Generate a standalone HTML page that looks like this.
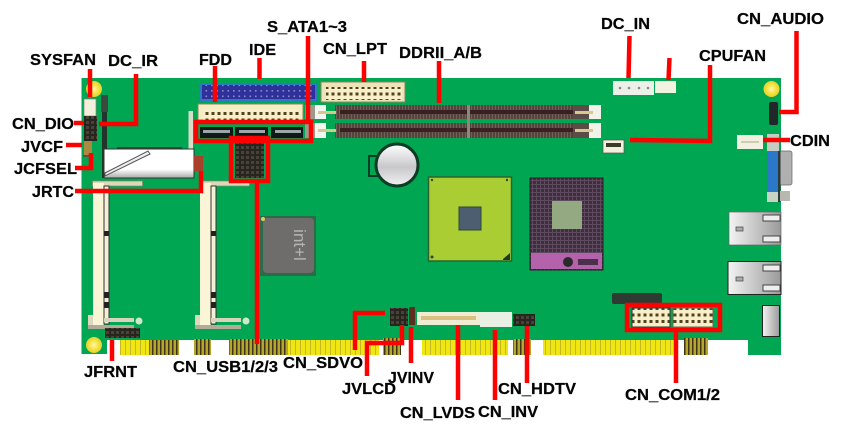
<!DOCTYPE html>
<html><head><meta charset="utf-8"><style>
html,body{margin:0;padding:0;background:#fff;width:851px;height:434px;overflow:hidden}
svg{display:block;filter:blur(.35px)}
text{font-family:"Liberation Sans",sans-serif;font-weight:bold;font-size:16px;fill:#050505;stroke:#050505;stroke-width:.25px}
</style></head><body>
<svg width="851" height="434" viewBox="0 0 851 434" xmlns="http://www.w3.org/2000/svg">
<defs>
<pattern id="gy" width="5" height="5" patternUnits="userSpaceOnUse"><rect width="5" height="5" fill="#f0e614"/><rect width="1" height="5" fill="#c4b820"/></pattern>
<pattern id="gd" width="4" height="5" patternUnits="userSpaceOnUse"><rect width="4" height="5" fill="#b5a52c"/><rect width="1.5" height="5" fill="#3e3418"/></pattern>
<pattern id="pinC" width="6" height="6.5" patternUnits="userSpaceOnUse"><rect width="6" height="6.5" fill="#f8efc8"/><rect x="1.5" y="1.5" width="3" height="3" fill="#4f4320"/></pattern>
<pattern id="pinB" width="5.5" height="5.5" patternUnits="userSpaceOnUse"><rect width="5.5" height="5.5" fill="#30309a"/><rect x="2" y="2" width="1.6" height="1.6" fill="#8a8ac8"/></pattern>
<pattern id="pinK" width="5" height="5" patternUnits="userSpaceOnUse"><rect width="5" height="5" fill="#26261f"/><rect x="1" y="1" width="3" height="3" fill="#4a4238"/></pattern>
<pattern id="dimm" width="3" height="4" patternUnits="userSpaceOnUse"><rect width="3" height="4" fill="#55443e"/><rect width="1" height="4" fill="#6f6156"/></pattern>
<pattern id="sock" width="4" height="4" patternUnits="userSpaceOnUse"><rect width="4" height="4" fill="#3e2e3e"/><rect width="1" height="4" fill="#5e4a5e"/><rect width="4" height="1" fill="#5e4a5e"/></pattern>
<linearGradient id="bat" x1="0" y1="0" x2="0" y2="1"><stop offset="0" stop-color="#fff"/><stop offset=".55" stop-color="#c8c8cc"/><stop offset="1" stop-color="#f2f2f2"/></linearGradient>
<linearGradient id="met" x1="0" y1="0" x2="1" y2="0"><stop offset="0" stop-color="#f4f4f4"/><stop offset="1" stop-color="#9a9a9a"/></linearGradient>
<linearGradient id="cf" x1="0" y1="0" x2="0" y2="1"><stop offset="0" stop-color="#fff"/><stop offset=".7" stop-color="#fff"/><stop offset="1" stop-color="#aaa"/></linearGradient>
<radialGradient id="hole"><stop offset="0" stop-color="#fff6b0"/><stop offset=".6" stop-color="#f4e23c"/><stop offset="1" stop-color="#e6d030"/></radialGradient>
</defs>

<!-- board -->
<path d="M81.5 78H781V355H748V340H107V354H81.5Z" fill="#00a651"/>
<!-- fingers -->
<rect x="120" y="340" width="30" height="15" fill="url(#gy)"/>
<rect x="149" y="340" width="30" height="15" fill="url(#gd)"/>
<rect x="194" y="339" width="17" height="16" fill="url(#gd)"/>
<rect x="229" y="339" width="59" height="16" fill="url(#gd)"/>
<rect x="288" y="340" width="91" height="15" fill="url(#gy)"/>
<rect x="383" y="338" width="18" height="17" fill="url(#gd)"/>
<rect x="422" y="340" width="86" height="15" fill="url(#gy)"/>
<rect x="513" y="339" width="18" height="16" fill="url(#gd)"/>
<rect x="543" y="340" width="131" height="15" fill="url(#gy)"/>
<rect x="684" y="338" width="24" height="17" fill="url(#gd)"/>
<!-- holes -->
<circle cx="94" cy="89" r="8" fill="url(#hole)"/>
<circle cx="94" cy="345" r="8" fill="url(#hole)"/>
<circle cx="771.5" cy="89" r="8" fill="url(#hole)"/>

<!-- IDE / FDD / LPT -->
<rect x="199.500" y="83" width="118" height="19" fill="#2e78c4"/>
<rect x="202" y="85" width="113" height="14" fill="url(#pinB)"/>
<rect x="198" y="104" width="105" height="16" fill="#f4edc4" stroke="#8b8660"/>
<rect x="203" y="109" width="96" height="11" fill="url(#pinC)"/>
<rect x="321" y="82" width="84" height="20" fill="#ece4b8" stroke="#8b8660"/>
<rect x="326" y="87" width="76" height="13" fill="url(#pinC)"/>

<!-- DIMM -->
<rect x="335" y="105" width="240" height="14" fill="url(#dimm)"/>
<rect x="335" y="123" width="240" height="15" fill="url(#dimm)"/>
<rect x="340" y="110" width="233" height="4" fill="#3a2022"/>
<rect x="340" y="128" width="233" height="4" fill="#3a2022"/>
<rect x="467" y="105" width="3" height="33" fill="#8a8a78"/>
<rect x="315" y="105" width="11" height="14" fill="#f4f4f0"/><rect x="315" y="123" width="11" height="15" fill="#f4f4f0"/>
<rect x="305" y="105" width="10" height="14" fill="#9c9a8a"/><rect x="305" y="123" width="10" height="15" fill="#9c9a8a"/>
<rect x="318" y="111" width="18" height="3" fill="#d8c890"/><rect x="318" y="129" width="18" height="3" fill="#d8c890"/>
<rect x="573" y="105" width="28" height="14" fill="#5c4c46"/><rect x="573" y="123" width="28" height="15" fill="#5c4c46"/>
<rect x="589" y="105" width="12" height="14" fill="#f2f2ea"/><rect x="589" y="123" width="12" height="15" fill="#f2f2ea"/>
<rect x="575" y="111" width="18" height="3" fill="#d8c890"/><rect x="575" y="129" width="18" height="3" fill="#d8c890"/>

<!-- battery -->
<rect x="369" y="156" width="9" height="20" fill="#00a651" stroke="#0c3c24" stroke-width="2"/>
<circle cx="397" cy="165" r="21" fill="url(#bat)" stroke="#0c3c24" stroke-width="3"/>

<!-- north bridge -->
<rect x="428.500" y="177" width="83" height="84" fill="#a9cd32" stroke="#2a6430" stroke-width="1.500"/>
<rect x="459" y="207" width="22" height="23" fill="#4d5e70" stroke="#2a4a34" stroke-width="1"/>
<circle cx="432" cy="180" r="1.200" fill="#2a4a20"/><circle cx="507" cy="180" r="1.200" fill="#2a4a20"/>
<circle cx="432" cy="257" r="1.500" fill="#2a4a20"/><path d="M503 259L510 253V260H503Z" fill="#1e3a1c"/>
<!-- socket -->
<rect x="530" y="178" width="73" height="92" fill="url(#sock)" stroke="#2a2028"/>
<rect x="552" y="201" width="30" height="28" fill="#93a982"/>
<rect x="531" y="253" width="71" height="16" fill="#b462ac"/>
<circle cx="568" cy="262" r="5" fill="#2a2a2a"/>
<rect x="578" y="259" width="20" height="6" fill="#4a304a"/>

<!-- intel chip -->
<rect x="260" y="216" width="56" height="60" fill="#2f6a48"/>
<rect x="263" y="218" width="51" height="55" rx="4" fill="#6f6c6c"/>
<text transform="translate(294,245) rotate(90)" style="font-size:17px;font-weight:normal;fill:#b4b4b4;stroke:none" text-anchor="middle">int+l</text>
<circle cx="263" cy="219" r="2" fill="#d8d060"/>

<!-- CF slot -->
<rect x="102" y="95" width="5" height="83" fill="#23352a"/>
<rect x="101" y="95" width="7" height="17" fill="#3a4a40"/>
<rect x="188.500" y="111" width="4.500" height="39" fill="#d8dcc8"/>
<rect x="104" y="149" width="90" height="29" fill="url(#cf)" stroke="#333" stroke-width="1"/>
<path d="M105 173 L148 151 L150 154 L105 176Z" fill="#eee" stroke="#555"/>
<rect x="117" y="147" width="65" height="1.500" fill="#2a4a34"/>

<!-- SODIMM slots -->
<g>
<rect x="92.500" y="181" width="50" height="5" fill="#ded8b8" stroke="#8a8670" stroke-width=".7"/>
<rect x="93" y="183" width="11" height="143" fill="#fbf5d8"/>
<rect x="104" y="186" width="5" height="138" fill="#f4f0d8" stroke="#333" stroke-width="1"/>
<rect x="104" y="231" width="5" height="5" fill="#222"/><rect x="104" y="292" width="5" height="6" fill="#222"/><rect x="104" y="302" width="5" height="6" fill="#222"/>
<rect x="88" y="315" width="5" height="12" fill="#ded8c0"/>
<path d="M88 325H134V329H88Z" fill="#b0ac98"/>
<rect x="104" y="318" width="30" height="4" fill="#d8d4bc"/>
<circle cx="139" cy="321" r="3.500" fill="#cfe8cc"/>
</g>
<g transform="translate(107,0)">
<rect x="92.500" y="181" width="50" height="5" fill="#ded8b8" stroke="#8a8670" stroke-width=".7"/>
<rect x="93" y="183" width="11" height="143" fill="#fbf5d8"/>
<rect x="104" y="186" width="5" height="138" fill="#f4f0d8" stroke="#333" stroke-width="1"/>
<rect x="104" y="231" width="5" height="5" fill="#222"/><rect x="104" y="292" width="5" height="6" fill="#222"/><rect x="104" y="302" width="5" height="6" fill="#222"/>
<rect x="88" y="315" width="5" height="12" fill="#ded8c0"/>
<path d="M88 325H134V329H88Z" fill="#b0ac98"/>
<rect x="104" y="318" width="30" height="4" fill="#d8d4bc"/>
<circle cx="139" cy="321" r="3.500" fill="#cfe8cc"/>
</g>

<!-- small connectors left -->
<rect x="84" y="99" width="12" height="17" fill="#f2f0dc" stroke="#8a8670" stroke-width=".7"/>
<rect x="84" y="116" width="13" height="25" fill="url(#pinK)"/>
<rect x="84" y="141" width="8" height="15" fill="#a88a40"/>
<rect x="83" y="155" width="9" height="2" fill="#554"/>
<rect x="194" y="156" width="9" height="15" fill="#a8402c"/>
<rect x="200" y="127" width="33" height="11" fill="#101818"/><rect x="235" y="127" width="33" height="11" fill="#101818"/><rect x="271" y="127" width="32" height="11" fill="#101818"/>
<rect x="203" y="130" width="27" height="3" fill="#9aa8a8"/><rect x="239" y="130" width="26" height="3" fill="#9aa8a8"/><rect x="275" y="130" width="26" height="3" fill="#9aa8a8"/>
<rect x="235" y="143" width="29" height="35" fill="url(#pinK)"/>
<rect x="105" y="328" width="35" height="10" fill="url(#pinK)"/>

<!-- bottom centre connectors -->
<rect x="390" y="308" width="18" height="18" fill="url(#pinK)"/>
<rect x="409" y="307" width="6" height="18" fill="#5a2e20"/>
<rect x="417" y="312" width="63" height="13" fill="#f0ecd4"/>
<rect x="421" y="316" width="55" height="4" fill="#d8c080"/>
<rect x="480" y="312" width="32" height="15" fill="#e8f0e4"/>
<rect x="513" y="314" width="22" height="12" fill="url(#pinK)"/>

<!-- right-bottom -->
<rect x="612" y="293" width="50" height="11" rx="2" fill="#2d3b33"/>
<rect x="632" y="308" width="38" height="19" fill="url(#pinC)" stroke="#333"/>
<rect x="673" y="308" width="40" height="19" fill="url(#pinC)" stroke="#6a6a50"/>

<!-- top right connectors -->
<rect x="613" y="81" width="41" height="14" fill="#ecf0e8"/>
<circle cx="620" cy="88" r="1.300" fill="#888"/><circle cx="629" cy="88" r="1.300" fill="#888"/><circle cx="639" cy="88" r="1.300" fill="#888"/><circle cx="648" cy="88" r="1.300" fill="#888"/>
<rect x="655" y="81" width="21" height="12" fill="#f2f2e0"/>
<rect x="603" y="140" width="21" height="13" fill="#f2f0dc" stroke="#555" stroke-width=".7"/>
<rect x="606" y="143" width="15" height="4" fill="#3a3a2a"/>
<rect x="769" y="102" width="9" height="23" rx="2" fill="#22282a"/>
<rect x="737" y="135" width="26" height="14" fill="#f2f0e0"/>
<rect x="741" y="141" width="18" height="2" fill="#cfcbb0"/>

<!-- VGA -->
<rect x="767" y="134" width="12" height="18" fill="#c4ccc4"/>
<rect x="778" y="151" width="14" height="34" rx="2" fill="#b0b0b0" stroke="#666" stroke-width=".7"/>
<rect x="767" y="151" width="11" height="41" fill="#2b77c8"/>
<rect x="778" y="151" width="2.500" height="51" fill="#2c3a3a"/>
<rect x="767" y="192" width="11" height="10" fill="#c8d4c4"/>
<rect x="780" y="191" width="10" height="10" fill="#b8b8b0"/>

<!-- LAN / USB -->
<rect x="729" y="212" width="52" height="33" fill="url(#met)" stroke="#666" stroke-width=".7"/>
<rect x="763" y="215" width="17" height="6" fill="#eee" stroke="#444"/><rect x="763" y="236" width="17" height="6" fill="#eee" stroke="#444"/>
<rect x="736" y="227" width="7" height="4" fill="#aaa" stroke="#444" stroke-width=".7"/>
<rect x="728" y="261.500" width="53" height="33" fill="url(#met)" stroke="#222"/>
<rect x="763" y="265" width="17" height="6" fill="#eee" stroke="#444"/><rect x="763" y="285" width="17" height="6" fill="#eee" stroke="#444"/>
<rect x="736" y="277" width="7" height="4" fill="#aaa" stroke="#444" stroke-width=".7"/>
<rect x="762.500" y="305.500" width="17" height="31" fill="url(#met)" stroke="#222"/>

<!-- red lines -->
<g fill="none" stroke="#fe0000" stroke-width="4.500">
<path d="M90 69V97"/>
<path d="M99 124H136V74"/>
<path d="M215 66V102"/>
<path d="M259.500 58V79"/>
<rect x="196" y="122" width="115" height="19"/>
<path d="M308 36V120"/>
<path d="M364 61V82"/>
<path d="M439 61V103"/>
<path d="M629.500 36L628.500 78"/>
<path d="M669.500 58L668.500 80"/>
<path d="M630 140L710 141V65"/>
<path d="M779 112H796.500V31"/>
<path d="M763 140H790"/>
<path d="M74 123H84"/>
<path d="M66 145H82"/>
<path d="M75 168H91V153"/>
<path d="M75 191H201V171"/>
<rect x="231" y="138" width="37" height="43"/>
<path d="M257 182V344"/>
<path d="M112 340V361"/>
<path d="M385 313H355V350"/>
<path d="M367 376V343H402V325"/>
<path d="M411 327V363"/>
<path d="M458 325V400"/>
<path d="M495 330V400"/>
<path d="M527 326V383"/>
<rect x="627" y="305" width="93" height="25"/>
<path d="M676 332V383"/>
</g>

<!-- labels -->
<text x="30" y="65" textLength="66" lengthAdjust="spacingAndGlyphs">SYSFAN</text>
<text x="108" y="66" textLength="50" lengthAdjust="spacingAndGlyphs">DC_IR</text>
<text x="199" y="65" textLength="33" lengthAdjust="spacingAndGlyphs">FDD</text>
<text x="249" y="55" textLength="27" lengthAdjust="spacingAndGlyphs">IDE</text>
<text x="267" y="32" textLength="80" lengthAdjust="spacingAndGlyphs">S_ATA1~3</text>
<text x="323" y="54" textLength="64" lengthAdjust="spacingAndGlyphs">CN_LPT</text>
<text x="399" y="58" textLength="83" lengthAdjust="spacingAndGlyphs">DDRII_A/B</text>
<text x="601" y="29" textLength="49" lengthAdjust="spacingAndGlyphs">DC_IN</text>
<text x="699" y="61" textLength="67" lengthAdjust="spacingAndGlyphs">CPUFAN</text>
<text x="737" y="24" textLength="87" lengthAdjust="spacingAndGlyphs">CN_AUDIO</text>
<text x="790" y="146" textLength="40" lengthAdjust="spacingAndGlyphs">CDIN</text>
<text x="12" y="129" textLength="62" lengthAdjust="spacingAndGlyphs">CN_DIO</text>
<text x="21" y="152" textLength="42" lengthAdjust="spacingAndGlyphs">JVCF</text>
<text x="14" y="174" textLength="63" lengthAdjust="spacingAndGlyphs">JCFSEL</text>
<text x="32" y="197" textLength="42" lengthAdjust="spacingAndGlyphs">JRTC</text>
<text x="84" y="377" textLength="53" lengthAdjust="spacingAndGlyphs">JFRNT</text>
<text x="173" y="372" textLength="105" lengthAdjust="spacingAndGlyphs">CN_USB1/2/3</text>
<text x="283" y="368" textLength="80" lengthAdjust="spacingAndGlyphs">CN_SDVO</text>
<text x="342" y="394" textLength="54" lengthAdjust="spacingAndGlyphs">JVLCD</text>
<text x="388" y="383" textLength="46" lengthAdjust="spacingAndGlyphs">JVINV</text>
<text x="400" y="418" textLength="75" lengthAdjust="spacingAndGlyphs">CN_LVDS</text>
<text x="478" y="417" textLength="60" lengthAdjust="spacingAndGlyphs">CN_INV</text>
<text x="498" y="394" textLength="78" lengthAdjust="spacingAndGlyphs">CN_HDTV</text>
<text x="625" y="400" textLength="95" lengthAdjust="spacingAndGlyphs">CN_COM1/2</text>
</svg>
</body></html>
